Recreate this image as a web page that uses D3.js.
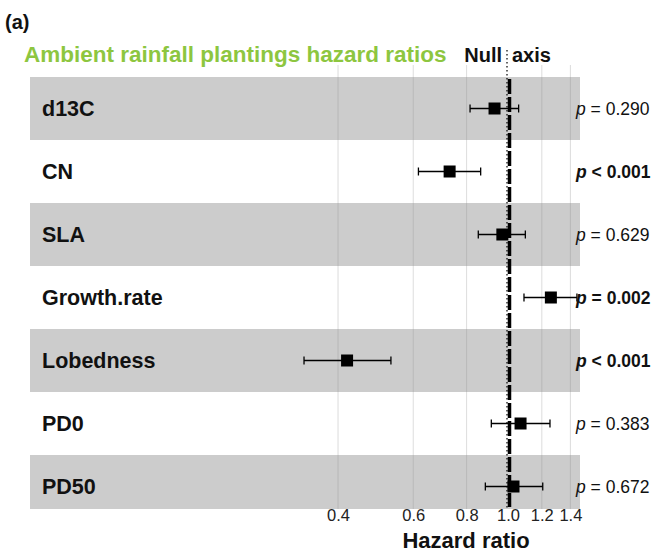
<!DOCTYPE html>
<html>
<head>
<meta charset="utf-8">
<script src="https://cdn.jsdelivr.net/npm/d3@7"></script>
<style>
  html, body { margin: 0; padding: 0; background: #fff; }
  svg { display: block; font-family: "Liberation Sans", Arial, Helvetica, sans-serif; }
</style>
</head>
<body>
<svg id="chart" width="655" height="552"></svg>
<script>
// ---- data ----
const categories = ["d13C", "CN", "SLA", "Growth.rate", "Lobedness", "PD0", "PD50"];
const hazardRatio = [0.93, 0.73, 0.97, 1.26, 0.42, 1.07, 1.03];
const lowerCI = [0.815, 0.617, 0.852, 1.09, 0.333, 0.914, 0.885];
const upperCI = [1.059, 0.863, 1.098, 1.45, 0.532, 1.254, 1.206];
const pOperator = ["=", "<", "=", "=", "<", "=", "="];
const pValue = ["0.290", "0.001", "0.629", "0.002", "0.001", "0.383", "0.672"];
const significant = [false, true, false, true, true, false, false];
const tickValues = [0.4, 0.6, 0.8, 1.0, 1.2, 1.4];

const titleText = "Ambient rainfall plantings hazard ratios";
const panelLabel = "(a)";
const xTitle = "Hazard ratio";

// ---- layout ----
const svg = d3.select("#chart");
const pxPerLog = 185.5, nullX = 508;
const xDomain = [0.3, 1.5];
const x = d3.scaleLog()
  .domain(xDomain)
  .range(xDomain.map(v => nullX + pxPerLog * Math.log(v)));

const y = d3.scaleBand().domain(categories).range([77, 518]).paddingInner(0);
const panelLeft = 30, panelRight = 580, panelBottom = 509;

const rows = categories.map((c, i) => ({
  cat: c, hr: hazardRatio[i], lo: lowerCI[i], hi: upperCI[i],
  op: pOperator[i], p: pValue[i], sig: significant[i], i
}));

// alternating bands
svg.append("g").selectAll("rect")
  .data(rows.filter(d => d.i % 2 === 0))
  .join("rect")
  .attr("x", panelLeft)
  .attr("y", d => y(d.cat))
  .attr("width", panelRight - panelLeft)
  .attr("height", d => Math.min(y(d.cat) + y.bandwidth(), panelBottom) - y(d.cat))
  .attr("fill", "#cccccc");

// vertical gridlines
svg.append("g").selectAll("line")
  .data(tickValues.filter(v => v !== 1.0))
  .join("line")
  .attr("x1", d => x(d)).attr("x2", d => x(d))
  .attr("y1", 65).attr("y2", panelBottom)
  .attr("stroke", "#8a8a8a")
  .attr("stroke-opacity", 0.3)
  .attr("stroke-width", 1);

// null line: thin dotted + thick dashed
svg.append("line")
  .attr("x1", x(1) - 1).attr("x2", x(1) - 1)
  .attr("y1", 50).attr("y2", panelBottom)
  .attr("stroke", "#000").attr("stroke-width", 1.2)
  .attr("stroke-dasharray", "1.5,2.5");
svg.append("line")
  .attr("x1", x(1) + 1.5).attr("x2", x(1) + 1.5)
  .attr("y1", 79).attr("y2", panelBottom - 2)
  .attr("stroke", "#000").attr("stroke-width", 3.5)
  .attr("stroke-dasharray", "15,3");

// error bars
const eb = svg.append("g").attr("stroke", "#000").attr("stroke-width", 1.3);
const cy = d => y(d.cat) + y.bandwidth() / 2;
eb.selectAll("line.h").data(rows).join("line").attr("class", "h")
  .attr("x1", d => x(d.lo)).attr("x2", d => x(d.hi))
  .attr("y1", cy).attr("y2", cy);
eb.selectAll("line.l").data(rows).join("line").attr("class", "l")
  .attr("x1", d => x(d.lo)).attr("x2", d => x(d.lo))
  .attr("y1", d => cy(d) - 4).attr("y2", d => cy(d) + 4);
eb.selectAll("line.u").data(rows).join("line").attr("class", "u")
  .attr("x1", d => x(d.hi)).attr("x2", d => x(d.hi))
  .attr("y1", d => cy(d) - 4).attr("y2", d => cy(d) + 4);

// point estimates
const sq = 12;
svg.append("g").selectAll("rect")
  .data(rows).join("rect")
  .attr("x", d => x(d.hr) - sq / 2)
  .attr("y", d => cy(d) - sq / 2)
  .attr("width", sq).attr("height", sq)
  .attr("fill", "#000");

// category labels
svg.append("g").selectAll("text")
  .data(rows).join("text")
  .attr("x", 42)
  .attr("y", d => cy(d) + 7.5)
  .attr("font-size", 21.5)
  .attr("font-weight", "bold")
  .attr("fill", "#111")
  .text(d => d.cat);

// p-values
const pt = svg.append("g").selectAll("text")
  .data(rows).join("text")
  .attr("x", 576)
  .attr("y", d => cy(d) + 6)
  .attr("font-size", 17.5)
  .attr("font-weight", d => d.sig ? "bold" : "normal")
  .attr("fill", "#111");
pt.append("tspan").attr("font-style", "italic").text("p");
pt.append("tspan").text(d => " " + d.op + " " + d.p);

// x axis
const axis = svg.append("g")
  .attr("transform", `translate(0,${panelBottom - 3})`)
  .call(d3.axisBottom(x).tickValues(tickValues).tickFormat(d3.format(".1f")).tickSize(0).tickPadding(3));
axis.select(".domain").remove();
axis.selectAll("text")
  .attr("font-size", 16.5)
  .attr("font-family", "Liberation Sans, Arial, sans-serif")
  .attr("fill", "#222");

svg.append("text")
  .attr("x", 466).attr("y", 548)
  .attr("text-anchor", "middle")
  .attr("font-size", 22).attr("font-weight", "bold")
  .attr("fill", "#111")
  .text(xTitle);

// titles
svg.append("text")
  .attr("x", 5).attr("y", 29)
  .attr("font-size", 20).attr("font-weight", "bold")
  .attr("fill", "#111")
  .text(panelLabel);

svg.append("text")
  .attr("x", 24).attr("y", 62)
  .attr("font-size", 22.5).attr("font-weight", "bold")
  .attr("fill", "#8dc63f")
  .text(titleText);

svg.append("text")
  .attr("x", 502).attr("y", 62)
  .attr("text-anchor", "end")
  .attr("font-size", 20).attr("font-weight", "bold")
  .attr("fill", "#111")
  .text("Null");
svg.append("text")
  .attr("x", 512).attr("y", 62)
  .attr("font-size", 20).attr("font-weight", "bold")
  .attr("fill", "#111")
  .text("axis");
</script>
</body>
</html>
